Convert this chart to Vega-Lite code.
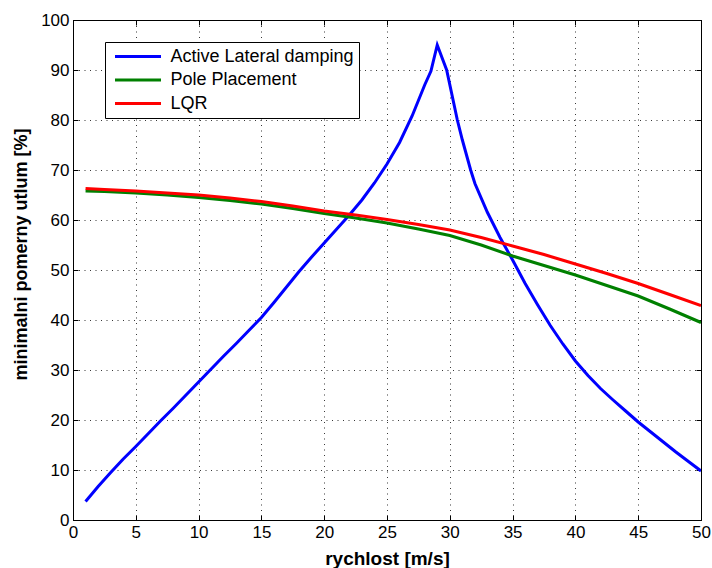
{
  "$schema": "https://vega.github.io/schema/vega-lite/v6.json",
  "autosize": {"type": "none"},
  "width": 628,
  "height": 500,
  "padding": {"left": 73, "top": 20, "right": 11, "bottom": 48},
  "background": "white",
  "config": {
    "view": {"stroke": "black", "strokeWidth": 1},
    "font": "Liberation Sans",
    "axis": {
      "labelFont": "Liberation Sans",
      "labelFontSize": 17,
      "labelColor": "black",
      "titleFont": "Liberation Sans",
      "titleFontWeight": "bold",
      "titleColor": "black",
      "domainColor": "black",
      "tickColor": "black",
      "gridColor": "#222222",
      "gridDash": [1, 4.5],
      "gridOpacity": 0.9
    }
  },
  "datasets": {
    "curves": [
      {"series": "Active Lateral damping", "v": 1, "y": 3.7},
      {"series": "Active Lateral damping", "v": 2, "y": 6.7},
      {"series": "Active Lateral damping", "v": 3, "y": 9.5},
      {"series": "Active Lateral damping", "v": 4, "y": 12.2},
      {"series": "Active Lateral damping", "v": 5, "y": 14.7},
      {"series": "Active Lateral damping", "v": 6, "y": 17.3},
      {"series": "Active Lateral damping", "v": 7, "y": 19.9},
      {"series": "Active Lateral damping", "v": 8, "y": 22.4},
      {"series": "Active Lateral damping", "v": 9, "y": 25.0},
      {"series": "Active Lateral damping", "v": 10, "y": 27.6},
      {"series": "Active Lateral damping", "v": 11, "y": 30.2},
      {"series": "Active Lateral damping", "v": 12, "y": 32.8},
      {"series": "Active Lateral damping", "v": 13, "y": 35.3},
      {"series": "Active Lateral damping", "v": 14, "y": 37.9},
      {"series": "Active Lateral damping", "v": 15, "y": 40.5},
      {"series": "Active Lateral damping", "v": 16, "y": 43.5},
      {"series": "Active Lateral damping", "v": 17, "y": 46.6},
      {"series": "Active Lateral damping", "v": 18, "y": 49.7},
      {"series": "Active Lateral damping", "v": 19, "y": 52.6},
      {"series": "Active Lateral damping", "v": 20, "y": 55.4},
      {"series": "Active Lateral damping", "v": 21, "y": 58.2},
      {"series": "Active Lateral damping", "v": 22, "y": 61.0},
      {"series": "Active Lateral damping", "v": 23, "y": 64.0},
      {"series": "Active Lateral damping", "v": 24, "y": 67.4},
      {"series": "Active Lateral damping", "v": 25, "y": 71.2},
      {"series": "Active Lateral damping", "v": 26, "y": 75.5},
      {"series": "Active Lateral damping", "v": 27, "y": 80.8},
      {"series": "Active Lateral damping", "v": 28, "y": 87.0},
      {"series": "Active Lateral damping", "v": 28.5, "y": 89.8},
      {"series": "Active Lateral damping", "v": 29, "y": 95.0},
      {"series": "Active Lateral damping", "v": 29.75, "y": 90.0},
      {"series": "Active Lateral damping", "v": 30.6, "y": 80.0},
      {"series": "Active Lateral damping", "v": 31, "y": 76.0},
      {"series": "Active Lateral damping", "v": 31.66, "y": 70.0},
      {"series": "Active Lateral damping", "v": 32, "y": 67.3},
      {"series": "Active Lateral damping", "v": 33, "y": 61.5},
      {"series": "Active Lateral damping", "v": 34, "y": 56.5},
      {"series": "Active Lateral damping", "v": 35, "y": 52.0},
      {"series": "Active Lateral damping", "v": 36, "y": 47.3},
      {"series": "Active Lateral damping", "v": 37, "y": 43.0},
      {"series": "Active Lateral damping", "v": 38, "y": 38.9},
      {"series": "Active Lateral damping", "v": 39, "y": 35.2},
      {"series": "Active Lateral damping", "v": 40, "y": 31.8},
      {"series": "Active Lateral damping", "v": 41, "y": 28.9},
      {"series": "Active Lateral damping", "v": 42, "y": 26.3},
      {"series": "Active Lateral damping", "v": 43, "y": 24.0},
      {"series": "Active Lateral damping", "v": 44, "y": 21.8},
      {"series": "Active Lateral damping", "v": 45, "y": 19.6},
      {"series": "Active Lateral damping", "v": 46, "y": 17.6},
      {"series": "Active Lateral damping", "v": 47, "y": 15.6},
      {"series": "Active Lateral damping", "v": 48, "y": 13.6},
      {"series": "Active Lateral damping", "v": 49, "y": 11.7},
      {"series": "Active Lateral damping", "v": 50, "y": 9.8},
      {"series": "Pole Placement", "v": 1, "y": 65.8},
      {"series": "Pole Placement", "v": 2.5, "y": 65.7},
      {"series": "Pole Placement", "v": 5, "y": 65.4},
      {"series": "Pole Placement", "v": 7.5, "y": 65.0},
      {"series": "Pole Placement", "v": 10, "y": 64.5},
      {"series": "Pole Placement", "v": 12.5, "y": 63.9},
      {"series": "Pole Placement", "v": 15, "y": 63.2},
      {"series": "Pole Placement", "v": 17.5, "y": 62.3},
      {"series": "Pole Placement", "v": 20, "y": 61.3},
      {"series": "Pole Placement", "v": 22.5, "y": 60.4},
      {"series": "Pole Placement", "v": 25, "y": 59.4},
      {"series": "Pole Placement", "v": 27.5, "y": 58.2},
      {"series": "Pole Placement", "v": 30, "y": 56.9},
      {"series": "Pole Placement", "v": 32.5, "y": 55.0},
      {"series": "Pole Placement", "v": 35, "y": 52.8},
      {"series": "Pole Placement", "v": 37.5, "y": 50.9},
      {"series": "Pole Placement", "v": 40, "y": 49.0},
      {"series": "Pole Placement", "v": 42.5, "y": 46.9},
      {"series": "Pole Placement", "v": 45, "y": 44.8},
      {"series": "Pole Placement", "v": 47.5, "y": 42.2},
      {"series": "Pole Placement", "v": 50, "y": 39.5},
      {"series": "LQR", "v": 1, "y": 66.3},
      {"series": "LQR", "v": 2.5, "y": 66.1},
      {"series": "LQR", "v": 5, "y": 65.8},
      {"series": "LQR", "v": 7.5, "y": 65.4},
      {"series": "LQR", "v": 10, "y": 65.0},
      {"series": "LQR", "v": 12.5, "y": 64.4},
      {"series": "LQR", "v": 15, "y": 63.7},
      {"series": "LQR", "v": 17.5, "y": 62.8},
      {"series": "LQR", "v": 20, "y": 61.8},
      {"series": "LQR", "v": 22.5, "y": 61.0},
      {"series": "LQR", "v": 25, "y": 60.1},
      {"series": "LQR", "v": 27.5, "y": 59.1},
      {"series": "LQR", "v": 30, "y": 58.0},
      {"series": "LQR", "v": 32.5, "y": 56.5},
      {"series": "LQR", "v": 35, "y": 54.8},
      {"series": "LQR", "v": 37.5, "y": 53.1},
      {"series": "LQR", "v": 40, "y": 51.2},
      {"series": "LQR", "v": 42.5, "y": 49.3},
      {"series": "LQR", "v": 45, "y": 47.3},
      {"series": "LQR", "v": 47.5, "y": 45.1},
      {"series": "LQR", "v": 50, "y": 42.9}
    ]
  },
  "data": {"name": "curves"},
  "resolve": {"axis": {"x": "independent", "y": "independent"}},
  "layer": [
    {
      "mark": {"type": "line", "strokeWidth": 3, "clip": true},
      "encoding": {
        "x": {
          "field": "v", "type": "quantitative",
          "scale": {"domain": [0, 50], "nice": false, "zero": false},
          "axis": {"title": "rychlost [m/s]", "titleFontSize": 19, "values": [0,5,10,15,20,25,30,35,40,45,50], "tickSize": -5, "labelPadding": 9, "titlePadding": 9, "grid": true, "labelFlush": false}
        },
        "y": {
          "field": "y", "type": "quantitative",
          "scale": {"domain": [0, 100], "nice": false},
          "axis": {"title": "minimalni pomerny utlum [%]", "titleFontSize": 18, "titleY": 234, "values": [0,10,20,30,40,50,60,70,80,90,100], "tickSize": -5, "labelPadding": 9, "titlePadding": 10, "grid": true, "labelFlush": false}
        },
        "color": {
          "field": "series", "type": "nominal",
          "scale": {"domain": ["Active Lateral damping", "Pole Placement", "LQR"], "range": ["#0000FF", "#008000", "#FF0000"]},
          "legend": {
            "orient": "none", "legendX": 32, "legendY": 22, "title": null,
            "symbolType": "stroke", "symbolSize": 2116, "symbolStrokeWidth": 3,
            "labelFont": "Liberation Sans", "labelFontSize": 18, "labelColor": "black", "labelLimit": 400,
            "fillColor": "white", "strokeColor": "black",
            "padding": 4.5, "clipHeight": 20, "rowPadding": 3.5, "symbolOffset": 4, "labelOffset": 8
          }
        }
      }
    },
    {
      "mark": {"type": "line", "strokeWidth": 0, "opacity": 0},
      "encoding": {
        "x": {
          "field": "v", "type": "quantitative",
          "scale": {"domain": [0, 50], "nice": false, "zero": false},
          "axis": {"orient": "top", "title": null, "labels": false, "values": [0,5,10,15,20,25,30,35,40,45,50], "tickSize": -5, "grid": false}
        },
        "y": {
          "field": "y", "type": "quantitative",
          "scale": {"domain": [0, 100], "nice": false},
          "axis": {"orient": "right", "title": null, "labels": false, "values": [0,10,20,30,40,50,60,70,80,90,100], "tickSize": -5, "grid": false}
        }
      }
    }
  ]
}
